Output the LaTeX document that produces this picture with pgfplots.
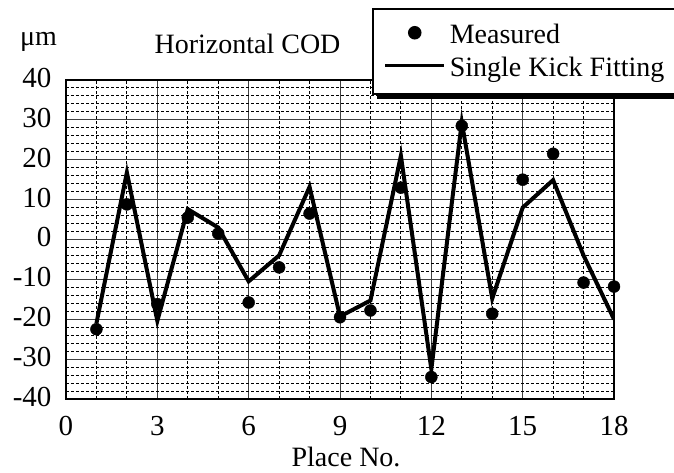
\documentclass[border=0pt]{standalone}
\usepackage{fontspec}
\setmainfont{Liberation Serif}
\usepackage{pgfplots}
\pgfplotsset{compat=1.18}
\usetikzlibrary{shadows}
\begin{document}
\fontsize{28}{32}\selectfont
\begin{tikzpicture}[x=1pt,y=1pt]
\begin{axis}[
  at={(66pt,74pt)}, anchor=south west,
  scale only axis, width=548pt, height=319pt,
  xmin=0, xmax=18, ymin=-40, ymax=40,
  xtick={0,3,...,18}, minor xtick={0,1,...,18},
  ytick={-40,-30,...,40}, minor ytick={-40,-38,...,40},
  grid=both,
  major grid style={black!75, line width=1pt},
  minor grid style={black, line width=1pt, dash pattern=on 3pt off 2pt},
  tick style={draw=none},
  axis line style={line width=1.5pt},
  /pgf/number format/assume math mode=true,
  tick label style={font=\fontsize{29}{32}\selectfont},
  xticklabel style={yshift=-8pt},
  yticklabel style={xshift=-5pt, yshift=2pt},
  xlabel={Place No.},
  xlabel style={at={(axis description cs:0.511,0)}, anchor=base, yshift=-68pt, font=\fontsize{28}{32}\selectfont},
  legend style={at={(axis description cs:0.5584,1.2257)}, anchor=north west,
    draw=black, line width=1.5pt, fill=white,
    drop shadow={shadow xshift=4pt, shadow yshift=-5pt, fill=black, opacity=1},
    inner xsep=11pt, inner ysep=10pt,
    nodes={inner sep=0pt, text height=25pt, text depth=7pt, font=\fontsize{28}{32}\selectfont},
    column sep=4pt, row sep=1pt},
  legend cell align=left,
  reverse legend,
]
\addplot[black, line width=4pt, line join=miter, mark=none,
  legend image code/.code={\pgfsetlinewidth{3pt}\pgfsetstrokecolor{black}\pgfsetbuttcap
    \pgfpathmoveto{\pgfqpoint{0pt}{2pt}}\pgfpathlineto{\pgfqpoint{59pt}{2pt}}\pgfusepath{stroke}}]
  coordinates {(1,-21) (2,16.8) (3,-20.4) (4,7.6) (5,3) (6,-10.5) (7,-4) (8,13.2) (9,-19.3) (10,-15.3) (11,21) (12,-32.5) (13,29.4) (14,-14.8) (15,8) (16,14.9) (17,-4) (18,-20)};
\addlegendentry{Single Kick Fitting}
\addplot[only marks, mark=*, mark size=6pt, black,
  legend image code/.code={\draw[mark repeat=2, mark phase=2, ##1] plot coordinates {(0pt,2pt) (29.5pt,2pt) (59pt,2pt)};}]
  coordinates {(1,-22.5) (2,8.8) (3,-16.2) (4,5.5) (5,1.5) (6,-15.8) (7,-7) (8,6.5) (9,-19.5) (10,-17.8) (11,13) (12,-34.5) (13,28.5) (14,-18.6) (15,15) (16,21.5) (17,-10.8) (18,-11.8)};
\addlegendentry{Measured}
\end{axis}
\node[anchor=base west, inner sep=0pt] at (20,427) {μm};
\node[anchor=base, inner sep=0pt] at (247.5,419) {Horizontal COD};
\pgfresetboundingbox
\useasboundingbox (0,0) rectangle (674,473);
\end{tikzpicture}
\end{document}
